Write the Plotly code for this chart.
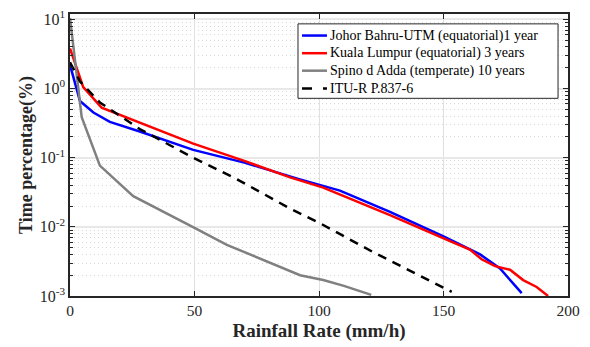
import plotly.graph_objects as go

johor_x = [0, 4, 9.4, 16, 28, 36, 49.5, 70, 92, 108.4, 128.5, 150, 160.6, 164.7, 172.7, 181.4]
johor_y = [2.2, 0.66, 0.45, 0.33, 0.24, 0.19, 0.13, 0.085, 0.049, 0.0335, 0.0165, 0.0073, 0.0047, 0.0040, 0.0025, 0.0011]

kl_x = [0, 5.3, 12.7, 30, 49.5, 70, 88.4, 101.7, 128.5, 154, 160.6, 165.3, 170.7, 176.7, 182, 187.4, 192]
kl_y = [3.8, 1.05, 0.53, 0.30, 0.16, 0.09, 0.052, 0.037, 0.0148, 0.0059, 0.0047, 0.0034, 0.0027, 0.0024, 0.0017, 0.00135, 0.001]

spino_x = [0, 4.7, 12, 25.4, 50.2, 63, 92.4, 101.7, 110, 121]
spino_y = [10.5, 0.385, 0.077, 0.0278, 0.0096, 0.0055, 0.0020, 0.0017, 0.0014, 0.00104]

itu_x = [0, 4, 12, 28, 49.5, 67, 88.4, 100.4, 121.8, 153.3]
itu_y = [2.4, 1.27, 0.63, 0.26, 0.1, 0.049, 0.0184, 0.0113, 0.0043, 0.00115]

names = ["Johor Bahru-UTM (equatorial)1 year", "Kuala Lumpur (equatorial) 3 years",
         "Spino d Adda (temperate) 10 years", "ITU-R P.837-6"]
colors = ["#0000ff", "#ff0000", "#808080", "#000000"]
dashes = ["solid", "solid", "solid", "9px,7px"]

y_tickvals = [1e-3, 1e-2, 1e-1, 1, 10]
y_ticktext = ["10<sup>-3</sup>", "10<sup>-2</sup>", "10<sup>-1</sup>", "10<sup>0</sup>", "10<sup>1</sup>"]
y_minor = [k * 10.0 ** e for e in range(-3, 1) for k in range(2, 10)]
x_tickvals = [0, 50, 100, 150, 200]

series = [(johor_x, johor_y), (kl_x, kl_y), (spino_x, spino_y), (itu_x, itu_y)]

fig = go.Figure()
for (xs, ys), nm, c, d in zip(series, names, colors, dashes):
    fig.add_trace(go.Scatter(x=xs, y=ys, mode="lines", name=nm, showlegend=False,
                             line=dict(color=c, width=2.5, dash=d)))

font = "Times New Roman"

# legend drawn in paper coordinates
leg_x0, leg_x1, leg_y0, leg_y1 = 0.4578, 0.98, 0.701, 0.965
row_y = [0.9236, 0.861, 0.799, 0.736]
shapes = [dict(type="rect", xref="paper", yref="paper", x0=leg_x0, x1=leg_x1, y0=leg_y0, y1=leg_y1,
               line=dict(color="#262626", width=1), fillcolor="white", layer="above")]
annotations = []
for nm, c, d, ry in zip(names, colors, dashes, row_y):
    shapes.append(dict(type="line", xref="paper", yref="paper", x0=0.4659, x1=0.516, y0=ry, y1=ry,
                       line=dict(color=c, width=2.5, dash=("10px,11px" if d != "solid" else "solid")),
                       layer="above"))
    annotations.append(dict(text=nm, xref="paper", yref="paper", x=0.519, y=ry, xanchor="left",
                            yanchor="middle", showarrow=False,
                            font=dict(family=font, size=14, color="#000")))

fig.update_layout(
    width=590, height=347,
    margin=dict(l=70, r=22, t=8, b=51),
    paper_bgcolor="white", plot_bgcolor="white",
    font=dict(family=font, size=14, color="#262626"),
    showlegend=False,
    shapes=shapes, annotations=annotations,
)
fig.update_xaxes(
    range=[0, 200], tickmode="array", tickvals=x_tickvals,
    showline=True, linecolor="#262626", linewidth=1.5, mirror="allticks",
    ticks="inside", ticklen=5, tickcolor="#262626",
    showgrid=True, gridcolor="#e0e0e0", gridwidth=1, zeroline=False,
    tickfont=dict(family=font, size=15.5),
    title=dict(text="<b>Rainfall Rate (mm/h)</b>", font=dict(family=font, size=19, color="#262626"), standoff=5),
)
fig.update_yaxes(
    type="log", range=[-3, 1.079], tickmode="array", tickvals=y_tickvals, ticktext=y_ticktext,
    showline=True, linecolor="#262626", linewidth=1.5, mirror="allticks",
    ticks="inside", ticklen=5, tickcolor="#262626",
    showgrid=True, gridcolor="#e8e8e8", gridwidth=2, zeroline=False,
    tickfont=dict(family=font, size=16),
    minor=dict(tickmode="array", tickvals=y_minor, ticks="inside", ticklen=3,
               tickcolor="#262626", showgrid=True, griddash="1px,3px", gridcolor="#d8d8d8", gridwidth=1),
    title=dict(text="<b>Time percentage(%)</b>", font=dict(family=font, size=18, color="#262626"), standoff=2),
)
fig.write_html("out.html")
